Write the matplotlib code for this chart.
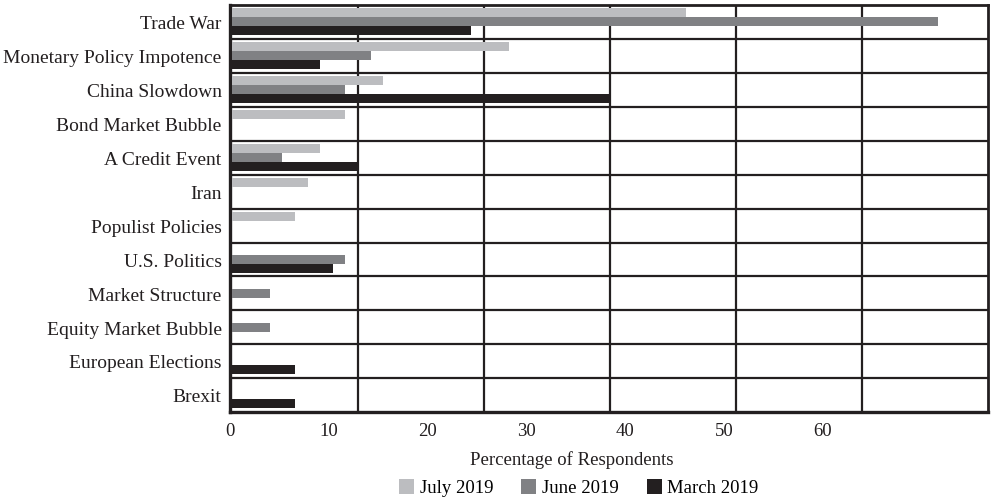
import numpy as np
import matplotlib
matplotlib.use('Agg')
import matplotlib.pyplot as plt
from matplotlib.patches import Patch

plt.rcParams['font.family'] = ['Liberation Serif', 'DejaVu Serif']

categories = ['Trade War', 'Monetary Policy Impotence', 'China Slowdown', 'Bond Market Bubble',
              'A Credit Event', 'Iran', 'Populist Policies', 'U.S. Politics', 'Market Structure',
              'Equity Market Bubble', 'European Elections', 'Brexit']
july_2019 = [45.0, 27.5, 15.0, 11.25, 8.75, 7.5, 6.25, 0, 0, 0, 0, 0]
june_2019 = [70.0, 13.75, 11.25, 0, 5.0, 0, 0, 11.25, 3.75, 3.75, 0, 0]
march_2019 = [23.75, 8.75, 37.5, 0, 12.5, 0, 0, 10.0, 0, 0, 6.25, 6.25]
series_names = ['July 2019', 'June 2019', 'March 2019']
colors = ['#bcbdc0', '#808184', '#231f20']
tick_labels = [0, 10, 20, 30, 40, 50, 60]

fig = plt.figure(figsize=(9.91, 4.99), dpi=100)
ax = fig.add_axes([0.232, 0.174, 0.765, 0.816])

y = np.arange(len(categories))
h = 0.265
for k, (vals, name, c) in enumerate(zip([july_2019, june_2019, march_2019], series_names, colors)):
    ax.barh(y + (k - 1) * h - 0.01, vals, height=h, color=c, label=name, zorder=3)

ax.set_xlim(0, 75)
ax.set_ylim(len(categories) - 0.5, -0.5)

# source draws the grid every 12.5 units, labels sit slightly off it
ax.set_xticks([t * 0.98 - 0.2 for t in tick_labels])
ax.set_xticklabels([str(t) for t in tick_labels])
ax.set_xticks(np.arange(12.5, 75, 12.5), minor=True)
ax.set_yticks(y + 0.02)
ax.set_yticklabels(categories)
ax.set_yticks(np.arange(0.5, len(categories) - 1, 1.0), minor=True)
ax.tick_params(which='both', length=0, labelsize=14, colors='#231f20')
ax.tick_params(axis='x', pad=8, labelsize=13.5)
ax.tick_params(axis='y', pad=6)
ax.grid(which='minor', color='#231f20', linewidth=1.6, zorder=1)

for s in ax.spines.values():
    s.set_linewidth(2.0)
    s.set_color('#231f20')
ax.spines['left'].set_linewidth(2.4)
ax.spines['bottom'].set_linewidth(2.4)

fig.text(0.577, 0.078, 'Percentage of Respondents', ha='center', va='center',
         fontsize=13.5, color='#231f20')

handles = [Patch(facecolor=c, label=n) for c, n in zip(colors, series_names)]
fig.legend(handles=handles, loc='center', bbox_to_anchor=(0.584, 0.022), ncol=3, frameon=False,
           fontsize=13.5, handlelength=0.8, handleheight=0.8, handletextpad=0.3, columnspacing=1.5)

fig.savefig('out.png', dpi=100)
